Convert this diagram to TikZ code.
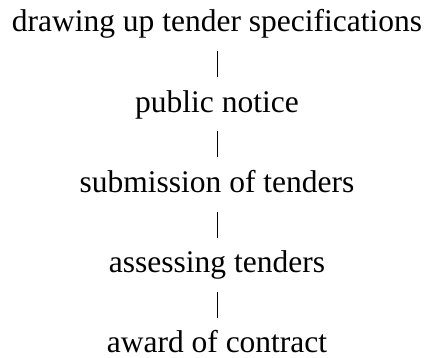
\documentclass[tikz,border=0pt]{standalone}
\usepackage{fontspec}
\setmainfont{Liberation Serif}
\begin{document}
\begin{tikzpicture}[x=1pt,y=1pt]
	\begin{scope}
	\useasboundingbox (0,0) rectangle (431,358);
	
	\pgfmathsetmacro\xMid{(217)}
	\pgfmathsetmacro\rowStep{(80.25)}
	\pgfmathsetmacro\firstBaseY{(358 - 32)}
	
	\tikzset{stage/.style={anchor=base, inner sep=0pt, text height=21pt, text depth=4pt, font=\fontsize{31.5}{38}\selectfont}}
	
	\node (stage1) at (\xMid, \firstBaseY) [stage] {drawing up tender specifications};
	\node (stage2) at (\xMid, {\firstBaseY - \rowStep * 1}) [stage] {public notice};
	\node (stage3) at (\xMid, {\firstBaseY - \rowStep * 2}) [stage] {submission of tenders};
	\node (stage4) at (\xMid, {\firstBaseY - \rowStep * 3}) [stage] {assessing tenders};
	\node (stage5) at (\xMid, {\firstBaseY - \rowStep * 4}) [stage] {award of contract};
	
	%short bars between the stages
	\foreach \nr in {1, ..., 4}{
		\pgfmathsetmacro\cnr{int(\nr + 1)}
		\draw[line width=0.9pt, shorten <=15pt, shorten >=14pt] (stage\nr) -- (stage\cnr);
	}
	
	\end{scope}
\end{tikzpicture}
\end{document}
